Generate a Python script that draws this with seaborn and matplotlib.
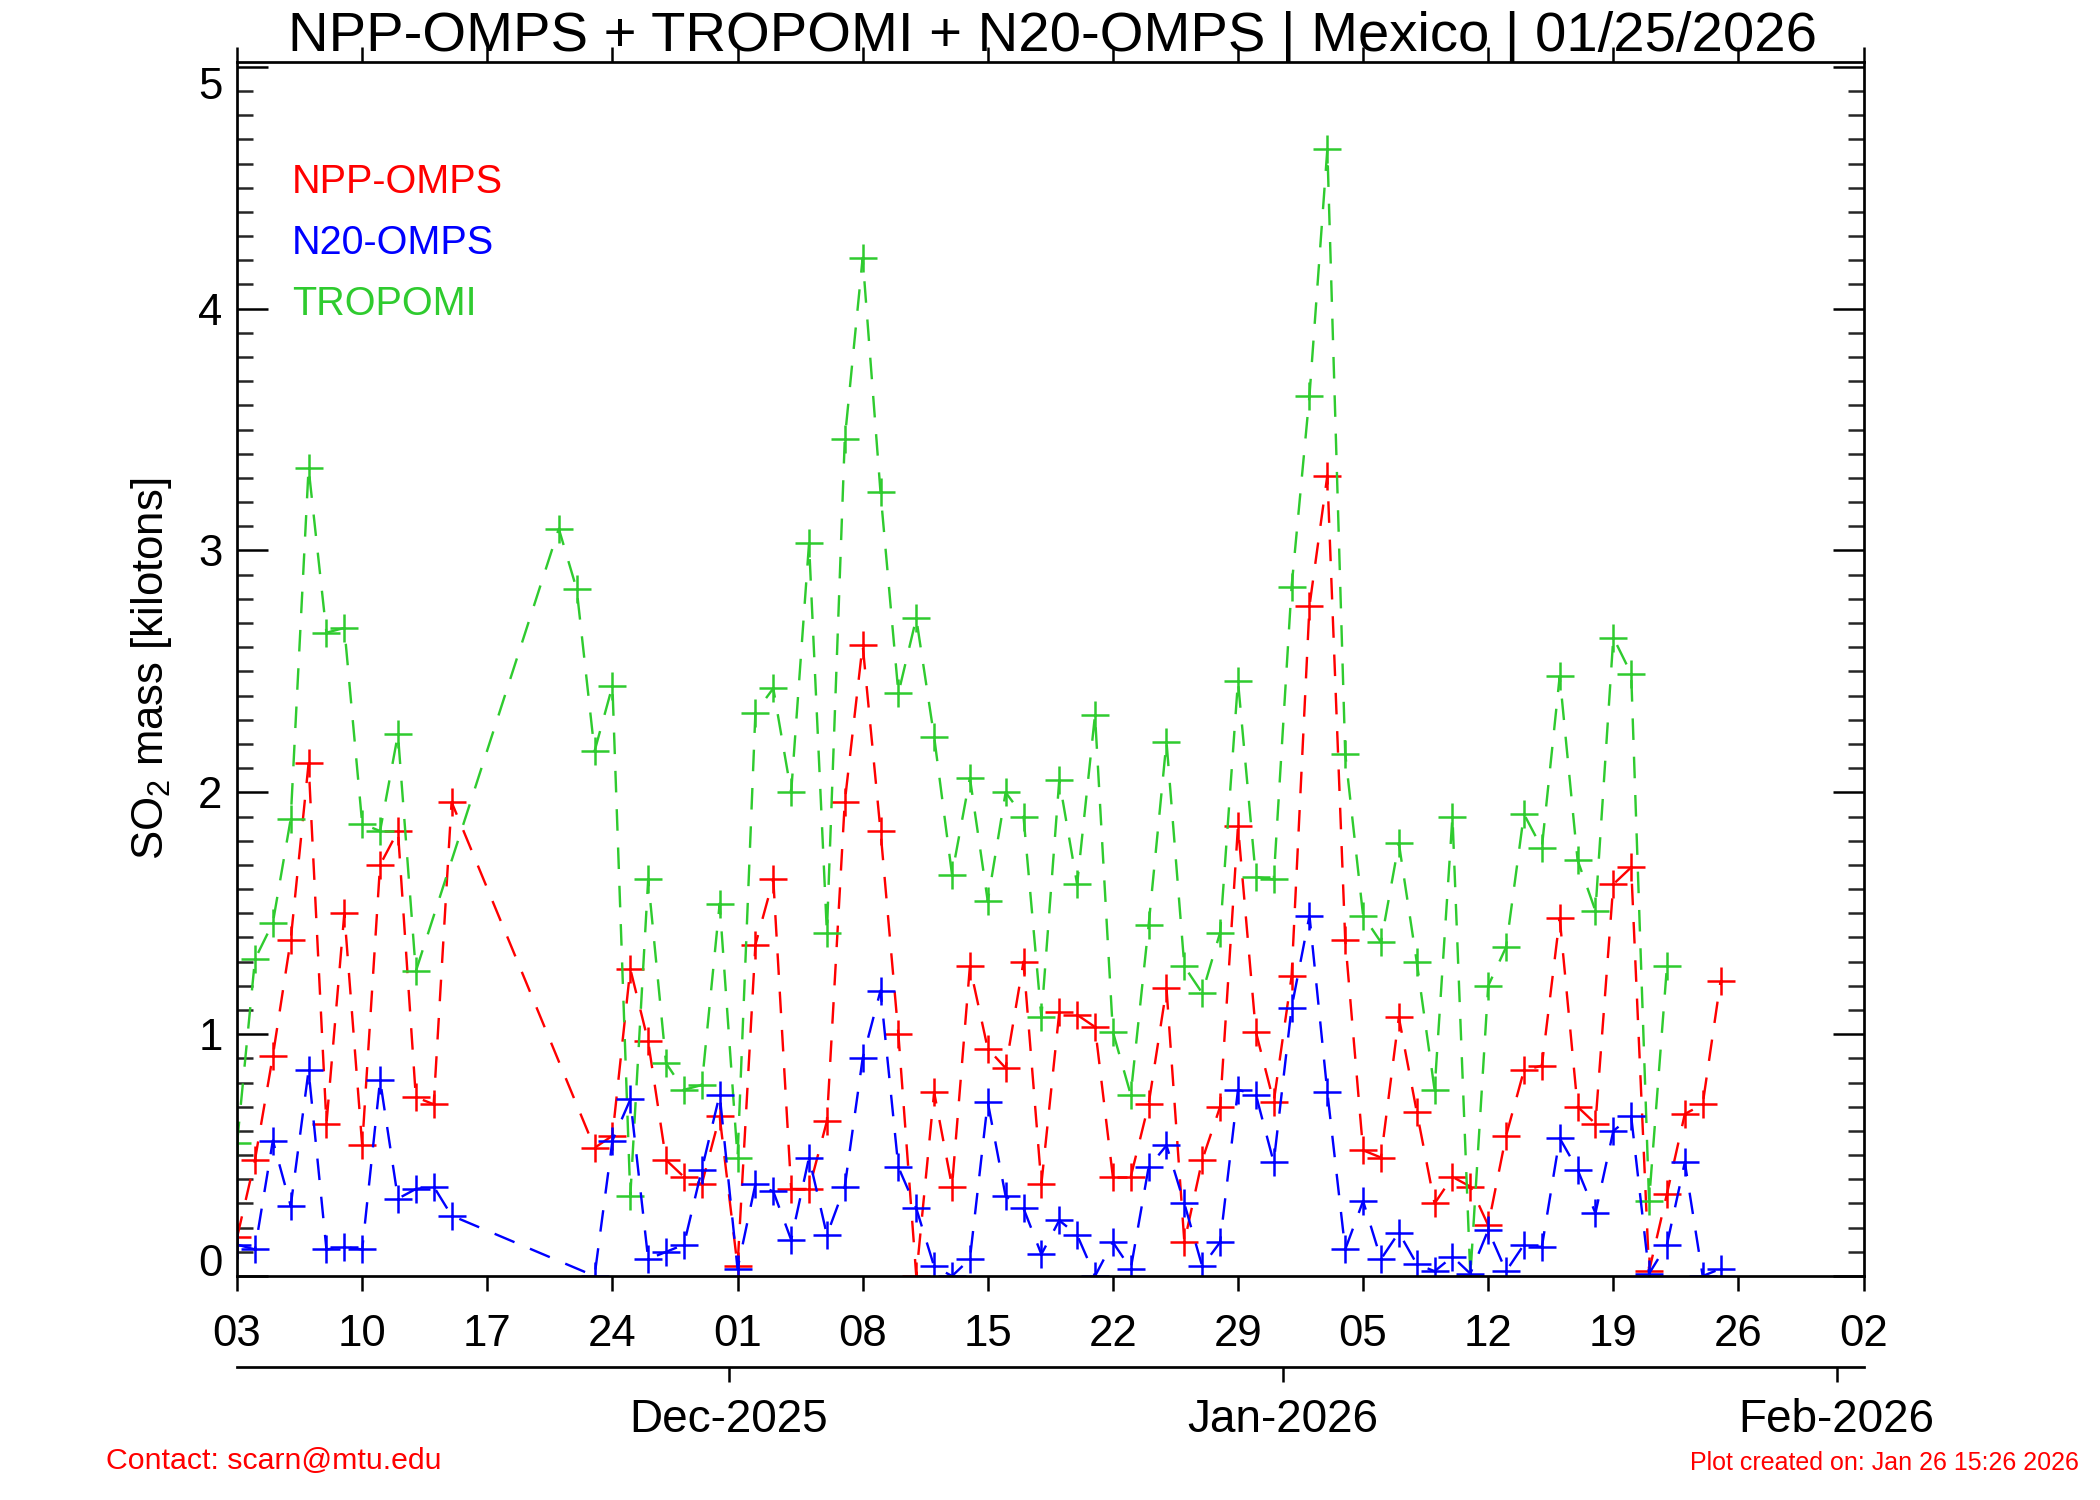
import pandas as pd
import matplotlib
matplotlib.use("Agg")
import matplotlib.pyplot as plt
import matplotlib.dates as mdates
from matplotlib.ticker import MultipleLocator, NullLocator
import seaborn as sns

# Days with a retrieval (OMPS has a gap 16-22 Nov, TROPOMI 14-20 Nov)
omps_days = pd.date_range("2025-11-03", "2025-11-15").append(
    pd.date_range("2025-11-23", "2026-01-25"))
tropomi_days = pd.date_range("2025-11-03", "2025-11-13").append(
    pd.date_range("2025-11-21", "2026-01-22"))

# SO2 mass [kilotons]
npp_omps = [0.16, 0.48, 0.91, 1.39, 2.12, 0.63, 1.50, 0.54, 1.70, 1.84, 0.74, 0.71, 1.96,
            0.53, 0.58, 1.27, 0.97, 0.48, 0.41, 0.38, 0.66, 0.04, 1.37,
            1.64, 0.36, 0.36, 0.64, 1.96, 2.61, 1.84, 1.00, 0.00, 0.76,
            0.37, 1.28, 0.94, 0.86, 1.30, 0.38, 1.09, 1.08, 1.03, 0.41,
            0.41, 0.71, 1.19, 0.14, 0.48, 0.70, 1.86, 1.01, 0.72, 1.24,
            2.77, 3.31, 1.39, 0.52, 0.49, 1.07, 0.68, 0.30, 0.41, 0.37,
            0.21, 0.58, 0.85, 0.87, 1.48, 0.70, 0.63, 1.62, 1.69, 0.02,
            0.34, 0.67, 0.71, 1.22]
n20_omps = [0.13, 0.11, 0.56, 0.29, 0.85, 0.11, 0.12, 0.11, 0.81, 0.32, 0.36, 0.37, 0.25,
            0.00, 0.56, 0.73, 0.07, 0.10, 0.13, 0.44, 0.75, 0.03, 0.38,
            0.35, 0.15, 0.49, 0.17, 0.37, 0.90, 1.18, 0.45, 0.28, 0.04,
            0.00, 0.07, 0.72, 0.33, 0.28, 0.09, 0.23, 0.17, 0.00, 0.14,
            0.03, 0.45, 0.54, 0.30, 0.04, 0.14, 0.77, 0.75, 0.47, 1.11,
            1.49, 0.76, 0.11, 0.31, 0.07, 0.18, 0.05, 0.02, 0.08, 0.01,
            0.19, 0.02, 0.13, 0.12, 0.57, 0.44, 0.26, 0.60, 0.66, 0.01,
            0.13, 0.47, 0.00, 0.03]
tropomi = [0.55, 1.31, 1.46, 1.89, 3.34, 2.66, 2.68, 1.87, 1.84, 2.24, 1.26,
           3.09, 2.84, 2.17, 2.44, 0.33, 1.64, 0.88, 0.77, 0.79, 1.54,
           0.49, 2.33, 2.43, 2.00, 3.03, 1.42, 3.46, 4.21, 3.24, 2.41,
           2.72, 2.23, 1.66, 2.06, 1.55, 2.00, 1.90, 1.07, 2.05, 1.62,
           2.32, 1.01, 0.75, 1.45, 2.21, 1.28, 1.17, 1.42, 2.46, 1.65,
           1.64, 2.85, 3.64, 4.66, 2.16, 1.49, 1.38, 1.79, 1.30, 0.77,
           1.90, 0.00, 1.20, 1.36, 1.91, 1.77, 2.48, 1.72, 1.51, 2.64,
           2.49, 0.31, 1.28]

week_ticks = pd.date_range("2025-11-03", "2026-02-02", freq="7D")
month_ticks = pd.to_datetime(["2025-12-01", "2026-01-01", "2026-02-01"])
month_labels = ["Dec-2025", "Jan-2026", "Feb-2026"]

RED, BLUE, GREEN = "#ff0000", "#0000ff", "#2fcb2f"

sns.set_style("ticks")
plt.rcParams["font.family"] = ["Liberation Sans", "DejaVu Sans"]
plt.rcParams["mathtext.fontset"] = "custom"
plt.rcParams["mathtext.rm"] = "Liberation Sans"
plt.rcParams["mathtext.default"] = "regular"
plt.rcParams["text.color"] = "black"
plt.rcParams["axes.labelcolor"] = "black"

fig = plt.figure(figsize=(14, 10), dpi=150)
ax = fig.add_axes([0.1129, 0.1493, 0.7745, 0.8094])

line_kw = dict(marker="+", markersize=13, markeredgewidth=1.2,
               linewidth=1.15, linestyle=(0, (9, 7)))
series = [(omps_days, npp_omps, RED),
          (tropomi_days, tropomi, GREEN),
          (omps_days, n20_omps, BLUE)]
for days, vals, col in series:
    df = pd.DataFrame({"date": days, "so2": vals})
    sns.lineplot(data=df, x="date", y="so2", ax=ax, color=col,
                 markeredgecolor=col, **line_kw)

ax.set_xlim(pd.Timestamp("2025-11-03"), pd.Timestamp("2026-02-02"))
ax.set_ylim(0, 5.02)
ax.set_xticks(week_ticks)
ax.set_xticklabels([d.strftime("%d") for d in week_ticks])
ax.xaxis.set_minor_locator(NullLocator())
ax.set_yticks(range(6))
ax.yaxis.set_minor_locator(MultipleLocator(0.1))
ax.set_xlabel("")

for s in ax.spines.values():
    s.set_linewidth(1.3)
    s.set_color("black")
ax.tick_params(axis="x", which="major", direction="out", top=True, bottom=True,
               length=7, width=1.2, pad=11, labelsize=21, colors="black")
ax.tick_params(axis="y", which="major", direction="in", left=True, right=True,
               length=15, width=1.2, pad=7, labelsize=21, colors="black")
ax.tick_params(axis="y", which="minor", direction="in", left=True, right=True,
               length=7.5, width=1.2)
ylabs = ax.get_yticklabels()
ylabs[0].set_verticalalignment("baseline")
ylabs[-1].set_verticalalignment("top")

ax.set_ylabel("SO$_2$ mass [kilotons]", fontsize=21, va="center")
ax.yaxis.set_label_coords(-0.0526, 0.5)

# month axis under the day axis (original puts month marks half a day early)
sec = ax.secondary_xaxis(-0.075)
sec.set_xticks(mdates.date2num(month_ticks - pd.Timedelta(hours=12)))
sec.set_xticklabels(month_labels)
sec.xaxis.set_minor_locator(NullLocator())
sec.spines["bottom"].set_linewidth(1.3)
sec.spines["bottom"].set_color("black")
sec.tick_params(axis="x", direction="out", length=7, width=1.2, pad=8,
                labelsize=22, colors="black")

# text legend
for i, (name, col) in enumerate([("NPP-OMPS", RED), ("N20-OMPS", BLUE),
                                 ("TROPOMI", GREEN)]):
    ax.text(0.0337, 0.901 - i * 0.05, name, color=col, fontsize=19,
            ha="left", va="center", transform=ax.transAxes)

fig.text(0.501, 0.9755, "NPP-OMPS + TROPOMI + N20-OMPS | Mexico | 01/25/2026",
         fontsize=27, color="black", ha="center", va="center")
fig.text(0.0506, 0.0262, "Contact: scarn@mtu.edu", color=RED, fontsize=14.5,
         ha="left", va="center")
fig.text(0.990, 0.0250, "Plot created on: Jan 26 15:26 2026", color=RED,
         fontsize=12, ha="right", va="center")

fig.savefig("out.png", dpi=150)
